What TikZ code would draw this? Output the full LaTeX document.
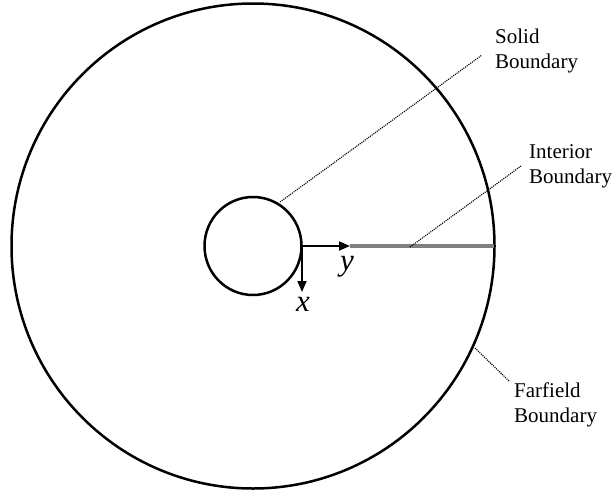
\documentclass[tikz,border=0pt]{standalone}
\usepackage{fontspec}
\setmainfont{Liberation Serif}
\usetikzlibrary{arrows.meta}

\tikzset{
  leader/.style={densely dotted,line width=1.1pt},
  boundlbl/.style={anchor=west,align=left,inner sep=0pt,font=\fontsize{21}{25}\selectfont},
  axislbl/.style={inner sep=0pt,font=\fontsize{31}{31}\selectfont\itshape}
}

\begin{document}
\begin{tikzpicture}[x=1pt,y=-1pt]
\useasboundingbox (0,0) rectangle (616,490);

% domain
\coordinate (o) at (253,246);
\draw[line width=2.5pt] (o) ellipse (241.5 and 242.5);
\draw[line width=2.5pt] (o) ellipse (48.5 and 49);

% cut and axes
\coordinate (org) at (302,246);
\coordinate (ytip) at (350,246);
\coordinate (cutend) at (494,246);
\coordinate (xtip) at (302,292);
\draw[gray,line width=4.5pt] (ytip) -- (cutend);
\draw[line width=1.8pt,-{Triangle[length=11pt,width=9pt]}] (org) -- (ytip);
\draw[line width=1.8pt,-{Triangle[length=11pt,width=9pt]}] (org) -- (xtip);
\node[axislbl] (ylbl) at (347,267) {y};
\node[axislbl] (xlbl) at (303,304) {x};

% labels
\node[boundlbl] (solid) at (495,51) {Solid\\Boundary};
\node[boundlbl] (interior) at (529,166) {Interior\\Boundary};
\node[boundlbl] (farfield) at (514,405) {Farfield\\Boundary};

\coordinate (s1) at (280,202);
\coordinate (s2) at (482,55);
\coordinate (i1) at (410,247);
\coordinate (i2) at (521,166);
\coordinate (f1) at (475,348);
\coordinate (f2) at (509,381);
\draw[leader] (s1) -- (s2);
\draw[leader] (i1) -- (i2);
\draw[leader] (f1) -- (f2);

\end{tikzpicture}
\end{document}
